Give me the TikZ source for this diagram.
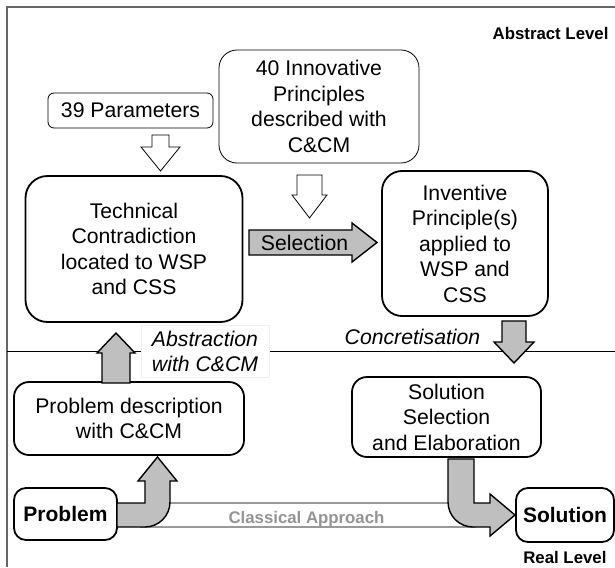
\documentclass[tikz,border=0pt]{standalone}
\usepackage{fontspec}
\setmainfont{Liberation Sans}
\begin{document}
\begin{tikzpicture}[x=1pt,y=-1pt,
  txt/.style={font=\fontsize{21.2}{25.5}\selectfont},
  itxt/.style={font=\fontsize{21.2}{25}\selectfont\itshape},
  btxt/.style={font=\fontsize{21}{25}\selectfont\bfseries},
  lbl/.style={font=\fontsize{16.8}{20}\selectfont\bfseries},
  thinbox/.style={draw, line width=0.8pt, align=center, inner sep=0pt, txt},
  thickbox/.style={draw, line width=1.8pt, align=center, inner sep=0pt, txt},
  garrow/.style={draw, fill=black!25, line width=1.4pt, line join=miter},
  warrow/.style={draw, fill=white, line width=0.8pt, line join=miter},
  framestyle/.style={draw=black!60, line width=1.5pt},
  bandline/.style={draw=black!40, line width=1.5pt}]

\useasboundingbox (0,0) rectangle (615,567);

% outer frame and level divider
\draw[framestyle] (615,7) -- (7,7) -- (7,567);
\draw[line width=0.8pt] (7,351) -- (615,351);

% level labels
\node[lbl, anchor=east] (abslvl) at (612,33) {Abstract Level};
\node[lbl, anchor=east] (reallvl) at (610,557) {Real Level};

% boxes
\node[thinbox, rounded corners=6pt, minimum width=165pt, minimum height=35pt] (param) at (130.5,110.5) {39 Parameters};
\node[thinbox, rounded corners=18pt, minimum width=200pt, minimum height=113pt] (innov) at (319,106.5) {40 Innovative\\Principles\\described with\\C\&CM};
\node[thickbox, rounded corners=22pt, minimum width=217pt, minimum height=146pt] (tech) at (134,249) {Technical\\Contradiction\\located to WSP\\and CSS};
\node[thickbox, rounded corners=20pt, minimum width=166pt, minimum height=145pt] (inv) at (465,243.5) {Inventive\\Principle(s)\\applied to\\WSP and\\CSS};
\node[thickbox, rounded corners=15pt, minimum width=230pt, minimum height=73pt] (pdesc) at (129,418.5) {Problem description\\with C\&CM};
\node[thickbox, rounded corners=15pt, minimum width=189pt, minimum height=80pt] (ssel) at (446.5,417) {Solution\\Selection\\and Elaboration};
\node[thickbox, btxt, rounded corners=12pt, minimum width=103pt, minimum height=52pt] (prob) at (65.5,514) {Problem};
\node[thickbox, btxt, rounded corners=12pt, minimum width=98pt, minimum height=54pt] (sol) at (565,515) {Solution};

% classical approach band
\draw[bandline] (145,503) -- (470,503);
\draw[bandline] (140,527) -- (476,527);
\node[lbl, text=black!42, anchor=base] (classic) at (306.5,523) {Classical Approach};

% white arrows from the reference lists
\draw[warrow] (152,135) -- (169,135) -- (169,147) -- (180,147) -- (160.5,171) -- (141,147) -- (152,147) -- cycle;
\draw[warrow] (297,175) -- (322,175) -- (322,195) -- (327,195) -- (309.5,218) -- (292,195) -- (297,195) -- cycle;

% selection arrow
\draw[garrow] (249,230) -- (352,230) -- (352,223) -- (377,242.5) -- (352,262) -- (352,255) -- (249,255) -- cycle;
\node[txt] (selection) at (304.5,243) {Selection};

% concretisation arrow
\draw[garrow] (502,321) -- (526,321) -- (526,342) -- (534,342) -- (514,363) -- (494,342) -- (502,342) -- cycle;
\node[itxt] (concr) at (412.5,337) {Concretisation};

% abstraction arrow
\draw[garrow] (102,383) -- (102,353) -- (97,353) -- (116,333) -- (135,353) -- (130,353) -- (130,383) -- cycle;
\node[itxt, fill=white, draw=black!6, align=center, inner sep=0pt, minimum width=128pt, minimum height=52pt] (abstr) at (205,351.5) {Abstraction\\with C\&CM};

% bent arrow: problem -> problem description
\draw[garrow] (117,503) -- (145,503) -- (145,481) -- (138,481) -- (157.5,457) -- (177,481) -- (170,481) -- (170,502)
  .. controls (170,515.8) and (158.8,527) .. (145,527) -- (117,527) -- cycle;

% bent arrow: solution selection -> solution
\draw[garrow] (448,459) -- (474,459) -- (474,503) -- (490,503) -- (490,494) -- (515,515) -- (490,536) -- (490,527) -- (473,527)
  .. controls (459.2,527) and (448,515.8) .. (448,502) -- cycle;
\end{tikzpicture}
\end{document}
